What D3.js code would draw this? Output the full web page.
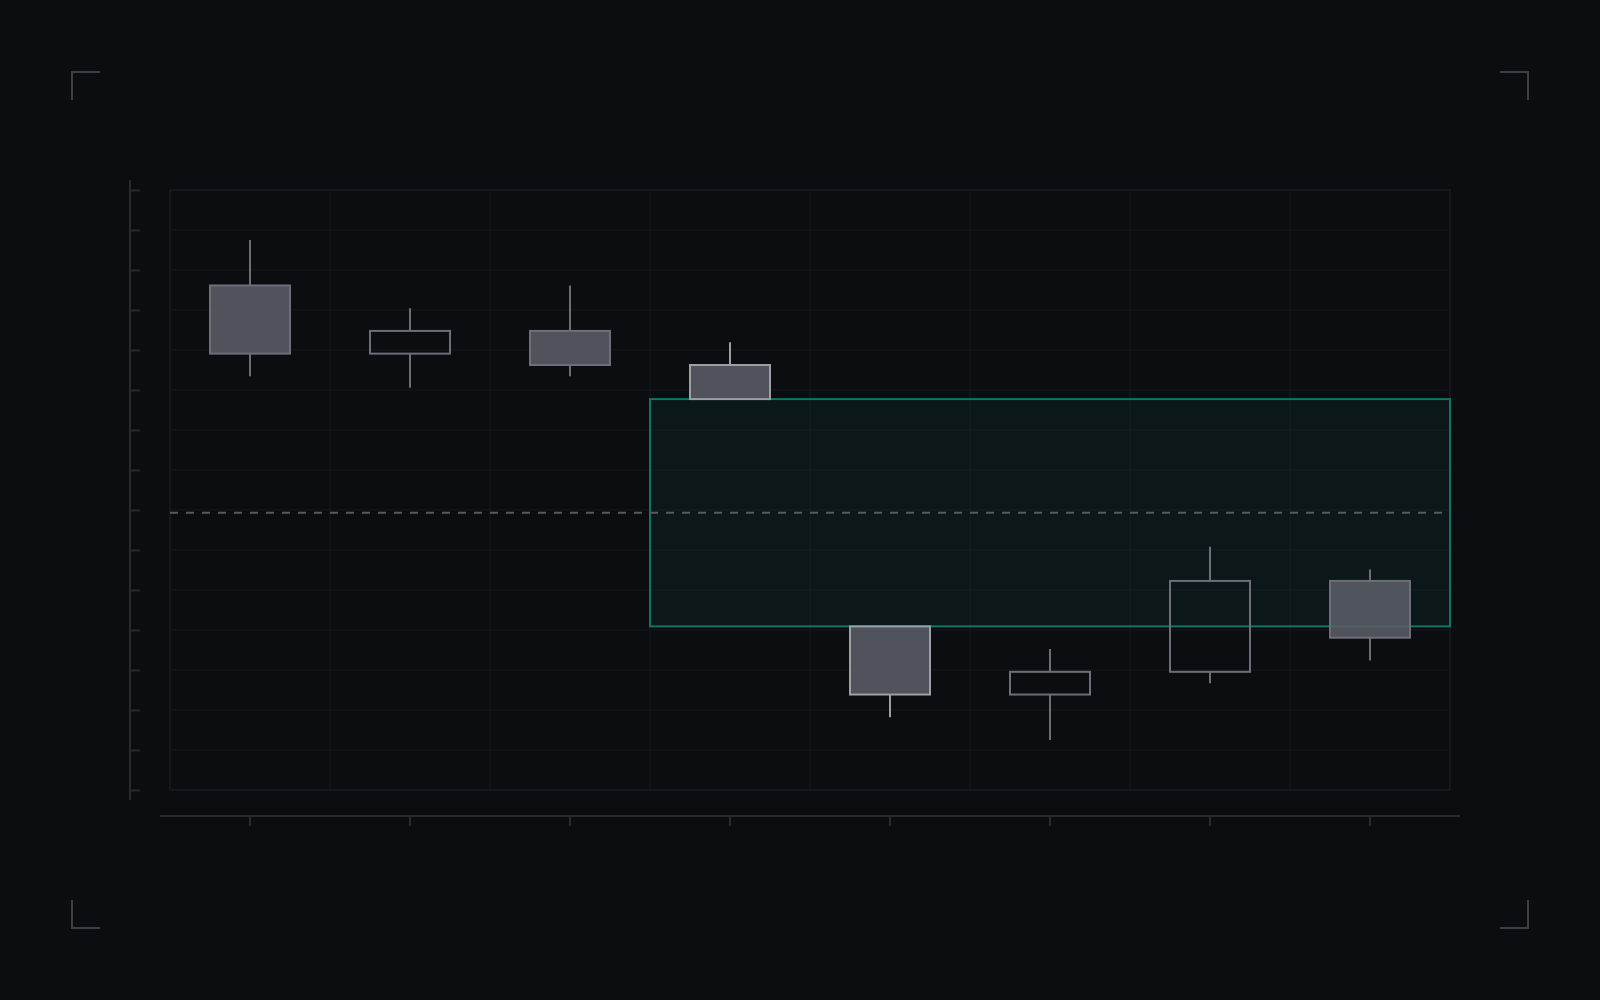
<!DOCTYPE html>
<html>
<head>
<meta charset="utf-8">
<script src="https://cdn.jsdelivr.net/npm/d3@7"></script>
<style>
  html, body { margin: 0; padding: 0; background: #0b0d11; }
  svg { display: block; }
</style>
</head>
<body>
<svg id="chart" width="1600" height="1000"></svg>
<script>
// candle data (reference level = 100)
var sessions = ['1', '2', '3', '4', '5', '6', '7', '8'];
var opens  = [120, 114, 116, 113, 90, 84, 86, 94];
var closes = [114, 116, 113, 110, 84, 86, 94, 89];
var highs  = [124, 118, 120, 115, 90, 88, 97, 95];
var lows   = [112, 111, 112, 110, 82, 80, 85, 87];
var highlighted = ['4', '5'];
var refLevel = 100;
var gapTop = 110, gapBottom = 90, gapFrom = '4';
var gridRows = d3.range(16);

var W = 1600, H = 1000;
var plotLeft = 170, plotRight = 1450, plotTop = 190, plotBottom = 790;

var svg = d3.select('#chart');
svg.append('rect').attr('width', W).attr('height', H).attr('fill', '#0b0d11');

var candles = sessions.map(function(s, i) {
  return { s: s, o: opens[i], c: closes[i], h: highs[i], l: lows[i] };
});

var lo = d3.min(lows), hi = d3.max(highs), pad = (hi - lo) * 0.1;
var y = d3.scaleLinear().domain([lo - pad, hi + pad]).range([plotBottom, plotTop]);
var x = d3.scaleBand().domain(sessions).range([plotLeft, plotRight]).padding(0);
var rowY = d3.scaleLinear().domain([0, gridRows.length - 1]).range([plotBottom, plotTop]);

// grid
var grid = svg.append('g').attr('stroke', '#15181e').attr('stroke-width', 1);
grid.selectAll('line.h').data(gridRows).enter().append('line')
  .attr('x1', plotLeft).attr('x2', plotRight)
  .attr('y1', function(d) { return rowY(d); }).attr('y2', function(d) { return rowY(d); });
grid.selectAll('line.v').data(d3.range(sessions.length + 1)).enter().append('line')
  .attr('y1', plotTop).attr('y2', plotBottom)
  .attr('x1', function(d) { return plotLeft + d * x.bandwidth(); })
  .attr('x2', function(d) { return plotLeft + d * x.bandwidth(); });
svg.append('rect').attr('x', plotLeft).attr('y', plotTop)
  .attr('width', plotRight - plotLeft).attr('height', plotBottom - plotTop)
  .attr('fill', 'none').attr('stroke', '#171a21').attr('stroke-width', 1.5);

// y axis (no labels)
var yAxis = svg.append('g').attr('transform', 'translate(130,0)')
  .call(d3.axisRight(rowY).tickValues(gridRows).tickSize(10).tickSizeOuter(0).tickFormat(''));
yAxis.select('.domain').remove();
yAxis.selectAll('line').attr('stroke', '#262a31').attr('stroke-width', 2);
yAxis.append('line').attr('y1', plotTop - 10).attr('y2', plotBottom + 10)
  .attr('stroke', '#262a31').attr('stroke-width', 2);

// x axis (no labels)
var xAxis = svg.append('g').attr('transform', 'translate(0,816)')
  .call(d3.axisBottom(x).tickSize(10).tickSizeOuter(0).tickFormat(''));
xAxis.select('.domain').remove();
xAxis.selectAll('line').attr('stroke', '#262a31').attr('stroke-width', 2);
xAxis.append('line').attr('x1', plotLeft - 10).attr('x2', plotRight + 10)
  .attr('stroke', '#262a31').attr('stroke-width', 2);

// gap zone
svg.append('rect')
  .attr('x', x(gapFrom)).attr('y', y(gapTop))
  .attr('width', plotRight - x(gapFrom)).attr('height', y(gapBottom) - y(gapTop))
  .attr('fill', '#10a88a').attr('fill-opacity', 0.065)
  .attr('stroke', '#0e7663').attr('stroke-width', 2);

// reference level
svg.append('line')
  .attr('x1', plotLeft).attr('x2', plotRight)
  .attr('y1', y(refLevel)).attr('y2', y(refLevel))
  .attr('stroke', '#555961').attr('stroke-width', 2).attr('stroke-dasharray', '8,8');

// candles
function strokeOf(d) {
  return highlighted.indexOf(d.s) >= 0 ? '#9c9fa6' : '#6c6f77';
}
var cg = svg.selectAll('g.candle').data(candles).enter().append('g').attr('class', 'candle');
cg.append('path')
  .attr('d', function(d) {
    var cx = x(d.s) + x.bandwidth() / 2;
    return 'M' + cx + ',' + y(d.h) + 'V' + y(Math.max(d.o, d.c)) +
      'M' + cx + ',' + y(Math.min(d.o, d.c)) + 'V' + y(d.l);
  })
  .attr('stroke', strokeOf).attr('stroke-width', 2).attr('fill', 'none');
cg.append('rect')
  .attr('x', function(d) { return x(d.s) + x.bandwidth() / 4; })
  .attr('width', x.bandwidth() / 2)
  .attr('y', function(d) { return y(Math.max(d.o, d.c)); })
  .attr('height', function(d) { return Math.abs(y(d.o) - y(d.c)); })
  .attr('fill', function(d) { return d.c < d.o ? '#5a5d65' : 'none'; })
  .attr('fill-opacity', 0.88)
  .attr('stroke', strokeOf).attr('stroke-width', 2);

// corner brackets
var corners = [[72, 72, 1, 1], [1528, 72, -1, 1], [72, 928, 1, -1], [1528, 928, -1, -1]];
svg.selectAll('path.corner').data(corners).enter().append('path')
  .attr('d', function(c) {
    return 'M' + (c[0] + c[2] * 28) + ',' + c[1] + 'H' + c[0] + 'V' + (c[1] + c[3] * 28);
  })
  .attr('fill', 'none').attr('stroke', '#3a3f48').attr('stroke-width', 2);
</script>
</body>
</html>
